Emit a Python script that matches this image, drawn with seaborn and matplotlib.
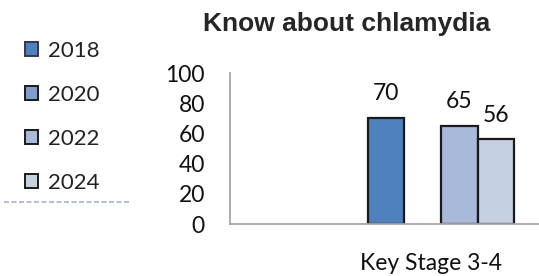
import matplotlib.pyplot as plt
from matplotlib.lines import Line2D
from matplotlib.patches import Patch
import pandas as pd
import seaborn as sns

categories = ["Key Stage 3-4"]
years = ["2018", "2020", "2022", "2024"]
values = [70, None, 65, 56]  # no figure for 2020
bar_colors = ["#4F81BD", "#7F9CCB", "#A9B9D9", "#C5D0E3"]
edge_colors = ["#3F3151", "#1A1A1A", "#1A1A1A", "#1A1A1A"]
yticks = [0, 20, 40, 60, 80, 100]
title = "Know about chlamydia"

sns.set_theme(style="white")
plt.rcParams["font.family"] = ["Lato", "DejaVu Sans"]

df = pd.DataFrame({
    "stage": categories * len(years),
    "year": years,
    "pct": values,
}).dropna()

fig = plt.figure(figsize=(5.39, 2.76), dpi=100)
ax = fig.add_axes([0.4267, 0.1884, 0.5733, 0.5471])

sns.barplot(
    data=df, x="stage", y="pct", hue="year", hue_order=years,
    palette=dict(zip(years, bar_colors)), width=0.8, saturation=1,
    legend=False, ax=ax,
)

edge_by_year = dict(zip(years, edge_colors))
for cont in ax.containers:
    lab = str(cont.get_label())
    for bar in cont:
        bar.set_edgecolor(edge_by_year.get(lab, "#1A1A1A"))
        bar.set_linewidth(1.6)
    ax.bar_label(cont, fmt="{:.0f}", padding=10, fontsize=16.5, color="#111111")

ax.set_ylim(0, 100)
ax.set_yticks(yticks)
ax.set_xlim(-1.153, 0.536)
ax.set_xticks([0])
ax.set_xticklabels([""])
ax.set_ylabel("")
ax.set_xlabel(categories[0], fontsize=16.5, color="#111111")
ax.xaxis.label.set_va("center")
ax.xaxis.set_label_coords((431 - 230) / 309, -0.26)
ax.tick_params(axis="both", length=0, labelsize=16.5, labelcolor="#111111")
ax.tick_params(axis="y", pad=18)
sns.despine(ax=ax)
for side in ("left", "bottom"):
    ax.spines[side].set_color("#A6A6A6")
    ax.spines[side].set_linewidth(1.3)

handles = [Patch(facecolor=c, edgecolor=e, linewidth=1.4) for c, e in zip(bar_colors, edge_colors)]
fig.legend(
    handles=handles, labels=years, loc="upper left", bbox_to_anchor=(0.046, 0.853),
    frameon=False, fontsize=16, handlelength=0.6, handleheight=0.6,
    handletextpad=0.45, labelspacing=1.09, borderpad=0, borderaxespad=0,
    labelcolor="#222222",
)
fig.add_artist(Line2D([4 / 539, 130 / 539], [1 - 202 / 276] * 2, transform=fig.transFigure,
                      color="#9DB4D6", lw=1.2, dashes=(3, 1.5)))

fig.text(347 / 539, 1 - 24 / 276, title, ha="center", va="center",
         fontsize=19, fontweight="bold", family=["Liberation Sans", "DejaVu Sans"])

fig.savefig("out.png", dpi=100)
